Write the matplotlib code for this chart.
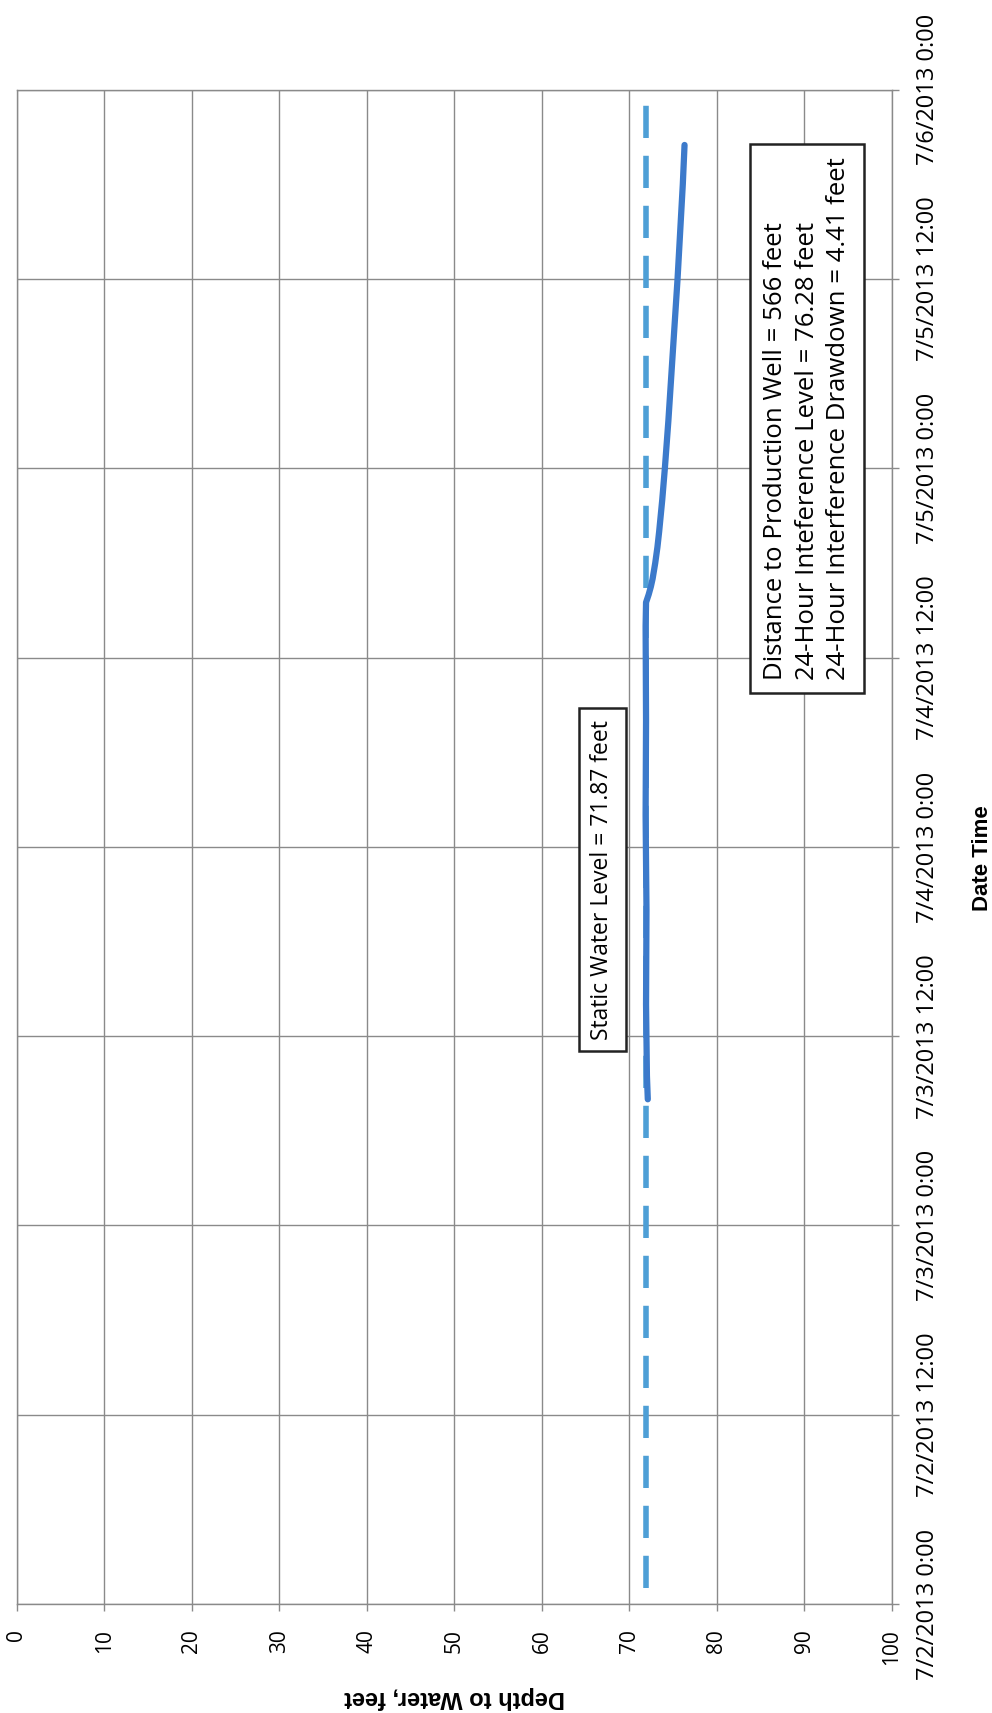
import matplotlib
matplotlib.use("Agg")
import matplotlib.pyplot as plt
import pandas as pd

# ---- data ----
depth_ticks = [0, 10, 20, 30, 40, 50, 60, 70, 80, 90, 100]
date_ticks = ["2013-07-02 00:00", "2013-07-02 12:00", "2013-07-03 00:00", "2013-07-03 12:00",
              "2013-07-04 00:00", "2013-07-04 12:00", "2013-07-05 00:00", "2013-07-05 12:00",
              "2013-07-06 00:00"]
date_tick_labels = ["7/2/2013 0:00", "7/2/2013 12:00", "7/3/2013 0:00", "7/3/2013 12:00",
                    "7/4/2013 0:00", "7/4/2013 12:00", "7/5/2013 0:00", "7/5/2013 12:00",
                    "7/6/2013 0:00"]

static_times = ["2013-07-02 01:00", "2013-07-06 00:00"]
static_depth = [71.87, 71.87]

level_times = ["2013-07-03 08:00", "2013-07-03 09:30", "2013-07-03 14:00", "2013-07-03 20:00",
               "2013-07-04 02:00", "2013-07-04 08:00", "2013-07-04 14:00", "2013-07-04 15:30",
               "2013-07-04 16:00", "2013-07-04 16:30", "2013-07-04 17:00", "2013-07-04 18:00",
               "2013-07-04 19:00", "2013-07-04 20:00", "2013-07-04 22:00", "2013-07-05 00:00",
               "2013-07-05 03:00", "2013-07-05 06:00", "2013-07-05 09:00", "2013-07-05 12:00",
               "2013-07-05 15:30", "2013-07-05 18:00", "2013-07-05 20:30"]
level_depth = [72.1, 72.0, 71.9, 71.95, 71.85, 71.9, 71.85, 71.9,
               72.2, 72.45, 72.65, 72.95, 73.2, 73.4, 73.75, 74.05,
               74.45, 74.8, 75.15, 75.5, 75.85, 76.1, 76.3]

static_label = "Static Water Level = 71.87 feet"
info_label = ("Distance to Production Well = 566 feet\n"
              "24-Hour Inteference Level = 76.28 feet\n"
              "24-Hour Interference Drawdown = 4.41 feet")
xlabel = "Depth to Water, feet"
ylabel = "Date Time"

# ---- figure ----
fig = plt.figure(figsize=(9.92, 17.13), dpi=100)
ax = fig.add_axes([0.0171, 0.0636, 0.882, 0.884])

grid_c = "#8a8a8a"
st = pd.to_datetime(static_times)
lt = pd.to_datetime(level_times)
ax.plot(static_depth, st, color="#4E9FD6", lw=4, dashes=(5.8, 3.2), solid_capstyle="butt", zorder=3)
ax.plot(level_depth, lt, color="#3C7ACB", lw=4.5, solid_capstyle="round",
        solid_joinstyle="round", zorder=4)

ax.set_xlim(0, 100)
ax.set_ylim(pd.Timestamp(date_ticks[0]), pd.Timestamp(date_ticks[-1]))
ax.set_xticks(depth_ticks)
ax.set_xticklabels([str(v) for v in depth_ticks], rotation=90, fontsize=15, family="Open Sans")
ax.yaxis.tick_right()
ax.set_yticks(pd.to_datetime(date_ticks))
ax.set_yticklabels(date_tick_labels, rotation=90, fontsize=17, family="Open Sans", va="center")

ax.grid(True, color=grid_c, lw=1.0)
ax.set_axisbelow(True)
for s in ax.spines.values():
    s.set_color(grid_c)
    s.set_linewidth(1.0)
ax.tick_params(axis="both", color=grid_c, width=1.0, length=5, direction="out")
ax.tick_params(axis="x", pad=13)
ax.tick_params(axis="y", pad=12)

ax.text(66.9, pd.Timestamp("2013-07-03 21:55"), static_label, rotation=90, ha="center", va="center",
        fontsize=16.5, family="Open Sans",
        bbox=dict(boxstyle="square,pad=0.5", fc="white", ec="#222222", lw=1.8), zorder=5)
ax.text(90.3, pd.Timestamp("2013-07-05 03:10"), info_label, rotation=90, ha="center", va="center",
        multialignment="left", fontsize=18.5, family="Open Sans", linespacing=1.36,
        bbox=dict(boxstyle="square,pad=0.5", fc="white", ec="#222222", lw=1.8), zorder=5)

fig.text(0.4587, 0.0088, xlabel, rotation=180, ha="center", va="center",
         fontsize=17, fontweight="bold", family="Liberation Sans")
fig.text(0.99, 0.499, ylabel, rotation=90, ha="center", va="center",
         fontsize=16, fontweight="bold", family="Liberation Sans")

fig.savefig("out.png", dpi=100)
